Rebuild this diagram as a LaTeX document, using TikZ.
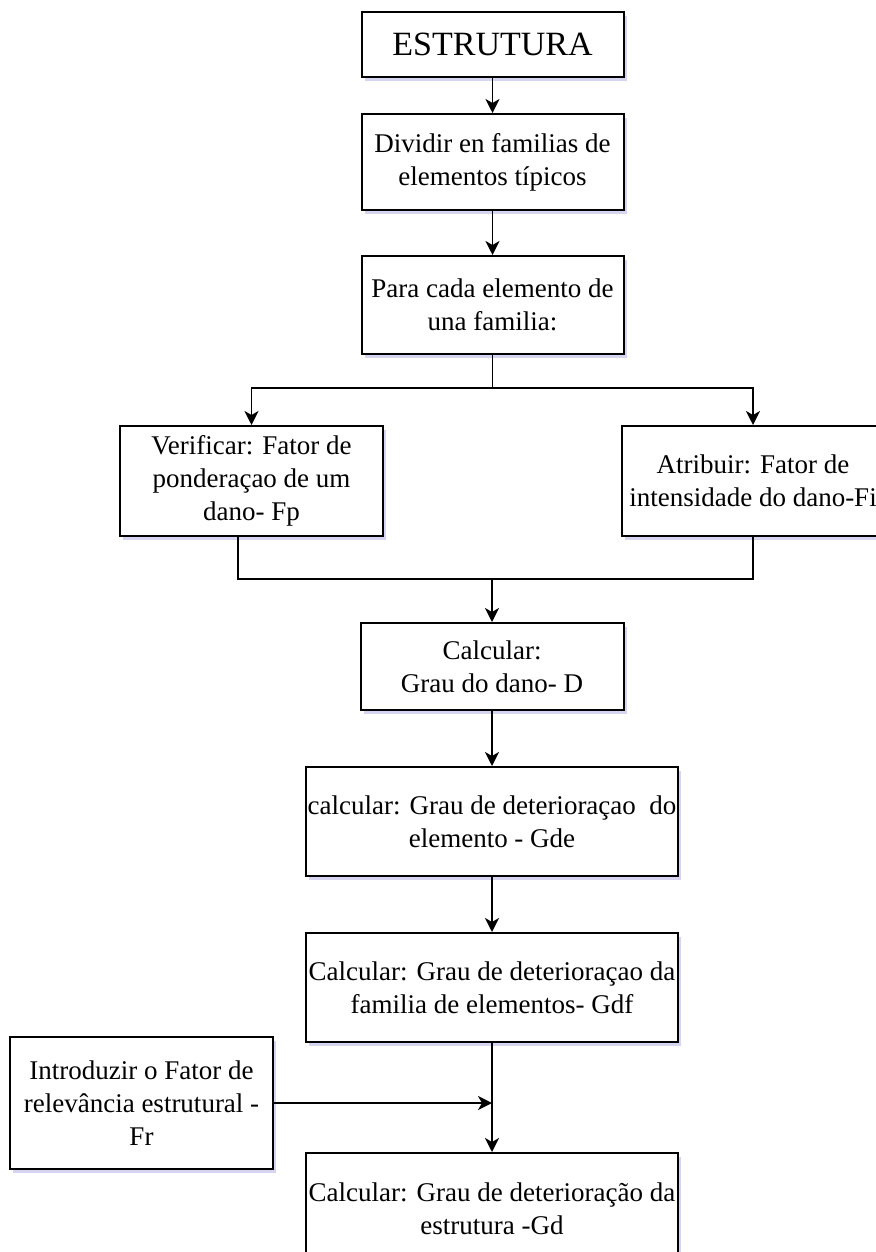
\documentclass[tikz,border=0pt]{standalone}
\usepackage{fontspec}
\setmainfont{Liberation Serif}
\usetikzlibrary{arrows.meta, positioning, shadows}

\begin{document}
\begin{tikzpicture}[
    x=1pt, y=-1pt,
    >={Stealth[length=14pt, width=14pt, inset=4pt]},
    font=\fontsize{27}{33}\selectfont,
    % Style definitions
    box/.style={draw, line width=2pt, fill=white, align=center, minimum width=262pt, inner sep=2pt,
        drop shadow={shadow xshift=3pt, shadow yshift=-4pt, opacity=0.22, fill=blue!50!gray}},
    wide/.style={box, minimum width=372pt},
    arrow/.style={->, line width=1.8pt, black},
    link/.style={line width=1.8pt, black},
]
\useasboundingbox (0,0) rectangle (875,1252);

%% ---------- MAIN COLUMN ----------
\node[box, minimum height=65pt, font=\fontsize{34}{38}\selectfont] (estrutura) at (492.5,44.5) {ESTRUTURA};
\node[box, below=35pt of estrutura, minimum height=96pt] (dividir) {Dividir en familias de\\elementos típicos};
\node[box, below=44pt of dividir, minimum height=98pt] (para) {Para cada elemento de\\una familia:};

%% ---------- FACTORS ----------
\node[box, minimum width=263pt, minimum height=110pt] (verificar) at (251.5,481) {Verificar: Fator de\\ponderaçao de um\\dano- Fp};
\node[box, minimum height=110pt] (atribuir) at (753,481) {Atribuir: Fator de\\intensidade do dano-Fi};

%% ---------- DEGREES ----------
\node[box, minimum width=263pt, minimum height=87pt] (grau_dano) at (492,666.5) {Calcular:\\Grau do dano- D};
\node[wide, below=55pt of grau_dano, minimum height=109pt] (grau_elem) {calcular: Grau de deterioraçao~ do\\elemento - Gde};
\node[wide, below=55pt of grau_elem, minimum height=109pt] (grau_fam) {Calcular: Grau de deterioraçao da\\familia de elementos- Gdf};
\node[wide, below=109pt of grau_fam, minimum height=112pt] (grau_est) {Calcular: Grau de deterioração da\\estrutura -Gd};

%% ---------- RELEVANCE ----------
\node[box, minimum width=263pt, minimum height=132pt] (relevancia) at (141.5,1103) {Introduzir o Fator de\\relevância estrutural -\\Fr};

%% ========== ARROWS ==========
\draw[arrow] (estrutura) -- (dividir);
\draw[arrow] (dividir) -- (para);

% Split to both factors
\draw[arrow] (para.south) -- ++(0,33) -| (verificar.north);
\draw[arrow] (para.south) -- ++(0,33) -| (atribuir.north);

% Merge into degree of damage
\coordinate (merge) at (492,579);
\draw[link] ([xshift=-13.5pt]verificar.south) |- (merge);
\draw[link] (atribuir.south) |- (merge);
\draw[arrow] (merge) -- (grau_dano);

\draw[arrow] (grau_dano) -- (grau_elem);
\draw[arrow] (grau_elem) -- (grau_fam);
\draw[arrow] (grau_fam) -- (grau_est);
\draw[arrow] (relevancia.east) -- (relevancia.east -| grau_est.north);

\end{tikzpicture}
\end{document}
